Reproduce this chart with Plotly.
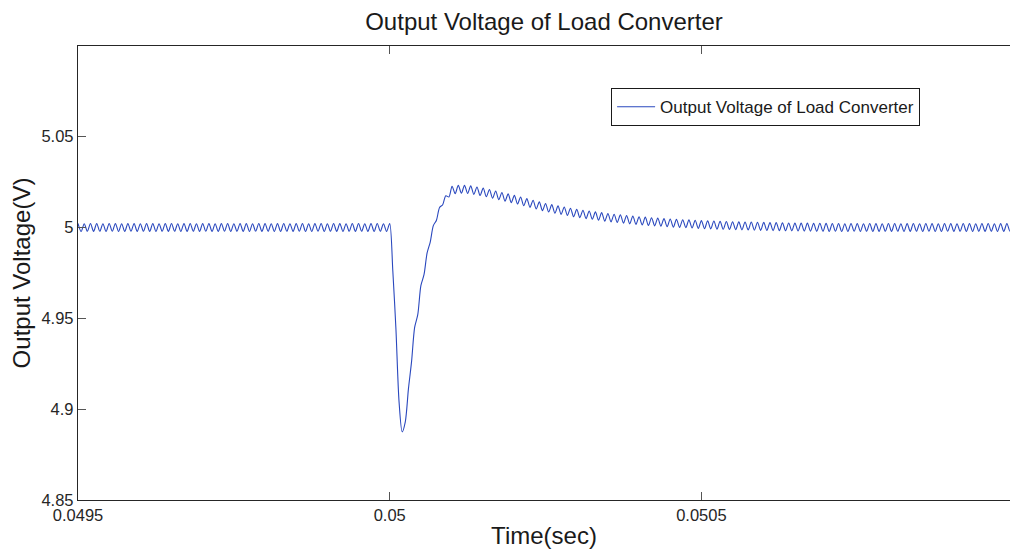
import plotly.graph_objects as go

# Sampling of the recorded waveform (half switching period)
t_start = 0.0495          # s
t_step = 5e-6             # s

# Output voltage samples (V), one per 5 us from 0.0495 s
v_before = [
    5.0022, 4.9978, 5.0021, 4.9979, 5.0022, 4.9978, 5.0022, 4.9979, 5.0021, 4.9978,
    5.0022, 4.9979, 5.0022, 4.9978, 5.0021, 4.9978, 5.0022, 4.9979, 5.0022, 4.9978,
    5.0021, 4.9979, 5.0022, 4.9978, 5.0022, 4.9978, 5.0021, 4.9979, 5.0022, 4.9978,
    5.0022, 4.9979, 5.0021, 4.9978, 5.0022, 4.9978, 5.0022, 4.9979, 5.0021, 4.9978,
    5.0022, 4.9979, 5.0022, 4.9978, 5.0021, 4.9978, 5.0022, 4.9979, 5.0022, 4.9978,
    5.0021, 4.9979, 5.0022, 4.9978, 5.0022, 4.9978, 5.0021, 4.9979, 5.0022, 4.9978,
    5.0022, 4.9979, 5.0021, 4.9978, 5.0022, 4.9978, 5.0022, 4.9979, 5.0021, 4.9978,
    5.0022, 4.9979, 5.0022, 4.9978, 5.0021, 4.9978, 5.0022, 4.9979, 5.0022, 4.9978,
    5.0021, 4.9979, 5.0022, 4.9978, 5.0022, 4.9978, 5.0021, 4.9979, 5.0022, 4.9978,
    5.0022, 4.9979, 5.0021, 4.9978, 5.0022, 4.9978, 5.0022, 4.9979, 5.0021, 4.9978,
]
v_transient = [
    5.0022, 4.9760, 4.9440, 4.9040, 4.8875, 4.8930, 4.9110, 4.9260, 4.9450, 4.9520,
    4.9680, 4.9740, 4.9860, 4.9920, 5.0010, 5.0040, 5.0110, 5.0125, 5.0175, 5.0168,
    5.0227, 5.0186, 5.0232, 5.0189, 5.0232, 5.0187, 5.0229, 5.0182, 5.0223, 5.0176,
    5.0217, 5.0169, 5.0209, 5.0161, 5.0201, 5.0153, 5.0193, 5.0145, 5.0185, 5.0137,
    5.0177, 5.0129, 5.0168, 5.0120, 5.0159, 5.0111, 5.0150, 5.0102, 5.0141, 5.0093,
    5.0132, 5.0085, 5.0126, 5.0078, 5.0119, 5.0072, 5.0113, 5.0066, 5.0106, 5.0059,
    5.0100, 5.0054, 5.0095, 5.0049, 5.0091, 5.0045, 5.0086, 5.0040, 5.0082, 5.0035,
    5.0077, 5.0031, 5.0073, 5.0028, 5.0070, 5.0024, 5.0066, 5.0020, 5.0063, 5.0017,
    5.0059, 5.0014, 5.0057, 5.0011, 5.0054, 5.0009, 5.0052, 5.0007, 5.0049, 5.0004,
    5.0047, 5.0002, 5.0045, 5.0000, 5.0043, 4.9999, 5.0042, 4.9997, 5.0040, 4.9995,
    5.0038, 4.9993, 5.0037, 4.9992, 5.0036, 4.9991, 5.0034, 4.9990, 5.0033, 4.9989,
    5.0032, 4.9988, 5.0031, 4.9987, 5.0030, 4.9986, 5.0030, 4.9985, 5.0029, 4.9984,
    5.0028, 4.9984, 5.0027, 4.9983, 5.0027, 4.9982, 5.0026, 4.9982, 5.0025, 4.9981,
    5.0025, 4.9981, 5.0024, 4.9980, 5.0024, 4.9980, 5.0023, 4.9979, 5.0023, 4.9979,
]
v_after = [
    5.0023, 4.9978, 5.0022, 4.9979, 5.0022, 4.9978, 5.0021, 4.9978, 5.0022, 4.9979,
    5.0022, 4.9978, 5.0021, 4.9979, 5.0022, 4.9978, 5.0022, 4.9978, 5.0021, 4.9979,
    5.0022, 4.9978, 5.0022, 4.9979, 5.0021, 4.9978, 5.0022, 4.9978, 5.0022, 4.9979,
    5.0021, 4.9978, 5.0022, 4.9979, 5.0022, 4.9978, 5.0021, 4.9978, 5.0022, 4.9979,
    5.0022, 4.9978, 5.0021, 4.9979, 5.0022, 4.9978, 5.0022, 4.9978, 5.0021, 4.9979,
    5.0022, 4.9978, 5.0022, 4.9979, 5.0021, 4.9978, 5.0022, 4.9978, 5.0022, 4.9979,
    5.0021,
]
voltage = v_before + v_transient + v_after
time_s = [t_start + i * t_step for i in range(len(voltage))]

x_tickvals = [0.0495, 0.05, 0.0505]
x_ticktext = ["0.0495", "0.05", "0.0505"]
y_tickvals = [4.85, 4.9, 4.95, 5.0, 5.05]
y_ticktext = ["4.85", "4.9", "4.95", "5", "5.05"]

title_text = "Output Voltage of Load Converter"
series_name = "Output Voltage of Load Converter"
x_title = "Time(sec)"
y_title = "Output Voltage(V)"

FONT = "Liberation Sans, Arial, Helvetica, sans-serif"

fig = go.Figure()
fig.add_trace(go.Scatter(
    x=time_s, y=voltage, mode="lines", name=series_name,
    line=dict(color="rgb(42,72,190)", width=1.1, shape="spline", smoothing=0.8),
))

fig.update_layout(
    width=1010, height=551,
    margin=dict(l=78, r=0, t=46, b=51),
    paper_bgcolor="white", plot_bgcolor="white",
    font=dict(family=FONT, color="#262626", size=16),
    title=dict(text=title_text, x=0.5, xref="paper", xanchor="center",
               y=1 - 22 / 551, yref="container", yanchor="middle",
               font=dict(size=24, color="#1a1a1a")),
    showlegend=True,
    legend=dict(x=0.572, y=0.907, xanchor="left", yanchor="top",
                bgcolor="white", bordercolor="#1a1a1a", borderwidth=1,
                font=dict(size=17, color="#1a1a1a"),
                tracegroupgap=0, itemwidth=38),
)
fig.update_xaxes(
    range=[0.0495, 0.050995], tickvals=x_tickvals, ticktext=x_ticktext,
    ticks="inside", ticklen=8, tickcolor="#555555", tickwidth=1,
    showline=True, linecolor="#262626", linewidth=1.3, mirror="ticks",
    showgrid=False, zeroline=False,
    tickfont=dict(size=16.5, color="#262626"),
    title=dict(text=x_title, font=dict(size=24, color="#1a1a1a"), standoff=4),
)
fig.update_yaxes(
    range=[4.85, 5.0999], tickvals=y_tickvals, ticktext=y_ticktext,
    ticks="inside", ticklen=8, tickcolor="#555555", tickwidth=1,
    showline=True, linecolor="#262626", linewidth=1.3, mirror=False,
    showgrid=False, zeroline=False,
    tickfont=dict(size=16.5, color="#262626"),
    title=dict(text=y_title, font=dict(size=24, color="#1a1a1a"), standoff=4),
)

fig.write_html("out.html")
